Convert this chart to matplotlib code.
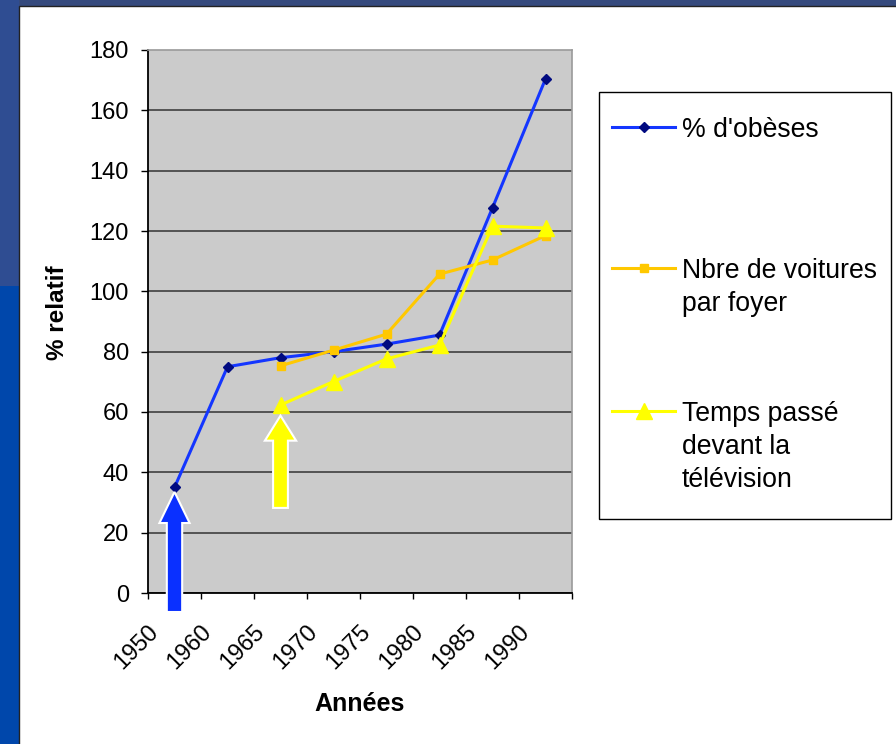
import numpy as np
import matplotlib
matplotlib.use("Agg")
import matplotlib.pyplot as plt
from matplotlib.patches import Rectangle, FancyArrow
from matplotlib.lines import Line2D
from matplotlib.transforms import ScaledTranslation

plt.rcParams['font.family'] = ['Liberation Sans', 'DejaVu Sans']

# ---------------- data ----------------
years = ['1950', '1960', '1965', '1970', '1975', '1980', '1985', '1990']
obeses = [35.0, 75.0, 78.0, 80.0, 82.5, 85.5, 127.7, 170.4]
voitures = [np.nan, np.nan, 75.3, 80.5, 85.8, 105.7, 110.4, 118.5]
television = [np.nan, np.nan, 62.3, 70.1, 77.6, 82.2, 121.6, 121.0]
series_labels = ["% d'obèses", "Nbre de voitures\npar foyer", "Temps passé\ndevant la\ntélévision"]
y_ticks = [0, 20, 40, 60, 80, 100, 120, 140, 160, 180]

W, H = 896, 744
def fx(x):
    return x / W
def fy(y):
    return 1 - y / H

fig = plt.figure(figsize=(W / 100, H / 100), dpi=100)
fig.patch.set_facecolor('#0047AB')

# slide background pieces
fig.add_artist(Rectangle((0, fy(6)), 1, 6 / H, transform=fig.transFigure,
                         fc='#354A7D', ec='none', zorder=0))
fig.add_artist(Rectangle((0, fy(286)), fx(19), 286 / H, transform=fig.transFigure,
                         fc='#2F4D92', ec='none', zorder=0))
fig.add_artist(Rectangle((fx(19), -0.01), 1.0, fy(6) + 0.01, transform=fig.transFigure,
                         fc='white', ec='#222222', lw=1, zorder=0.5))

ax = fig.add_axes([fx(148), fy(593), (572 - 148) / W, (593 - 50) / H])
ax.set_facecolor('#CBCBCB')
ax.set_zorder(1)

x = np.arange(len(years))
c_blue = '#1436FF'
c_gold = '#FFC800'
c_yel = '#FFFF00'

ax.plot(x, obeses, color=c_blue, lw=2.2, marker='D', ms=5.5,
        mfc='#000A80', mec='#000A80', zorder=3)
ax.plot(x, voitures, color=c_gold, lw=2.2, marker='s', ms=5.2,
        mfc=c_gold, mec=c_gold, zorder=4)
ax.plot(x, television, color=c_yel, lw=2.2, marker='^', ms=11,
        mfc=c_yel, mec=c_yel, zorder=5)

ax.set_xlim(-0.5, len(years) - 0.5)
ax.set_ylim(0, 180)
ax.set_yticks(y_ticks)
ax.set_yticklabels([str(v) for v in y_ticks])
ax.tick_params(axis='y', direction='out', length=5, width=1, pad=8.6,
               labelsize=17, colors='black')

ax.set_xticks(x)
ax.set_xticklabels(years, rotation=45, ha='right', va='center',
                   rotation_mode='anchor', fontsize=17)
ax.set_xticks(np.arange(-0.5, len(years), 1), minor=True)
ax.tick_params(axis='x', which='major', length=0, pad=25.5)
ax.tick_params(axis='x', which='minor', direction='out', length=4.5, width=1)
off = ScaledTranslation(-19 / 100, 0, fig.dpi_scale_trans)
for lab in ax.get_xticklabels():
    lab.set_transform(lab.get_transform() + off)

ax.yaxis.grid(True, color='#4a4a4a', lw=1.3)
ax.set_axisbelow(True)
ax.get_ygridlines()[-1].set_visible(False)

for s in ['left', 'bottom']:
    ax.spines[s].set_color('black')
    ax.spines[s].set_linewidth(1.3)
for s in ['top', 'right']:
    ax.spines[s].set_color('#9a9a9a')
    ax.spines[s].set_linewidth(1.2)

# annotation arrows pointing at the starting points
blue_tip = obeses[0] - 1.5
ax.add_patch(FancyArrow(0, -6.3, 0, blue_tip + 6.3, width=0.29, head_width=0.57,
                        head_length=10.3, length_includes_head=True,
                        fc='#0A30FF', ec='white', lw=1.5, clip_on=False, zorder=10))
yel_tip = television[2] - 3.5
ax.add_patch(FancyArrow(2, 28.2, 0, yel_tip - 28.2, width=0.28, head_width=0.59,
                        head_length=8.3, length_includes_head=True,
                        fc=c_yel, ec='white', lw=1.5, clip_on=False, zorder=10))

# axis titles
fig.text(fx(360), fy(704), 'Années', ha='center', va='center',
         fontsize=18, fontweight='bold')
fig.text(fx(57), fy(313), '% relatif', ha='center', va='center',
         rotation=90, fontsize=17.5, fontweight='bold')

# legend box
fig.add_artist(Rectangle((fx(599), fy(519)), (891 - 599) / W, (519 - 92) / H,
                         transform=fig.transFigure, fc='white', ec='black',
                         lw=1, zorder=2))
leg_rows = [127, 268, 411]
leg_styles = [
    dict(color=c_blue, marker='D', ms=5.5, mfc='#000A80', mec='#000A80'),
    dict(color=c_gold, marker='s', ms=5.2, mfc=c_gold, mec=c_gold),
    dict(color=c_yel, marker='^', ms=11, mfc=c_yel, mec=c_yel),
]
for yrow, st, lab in zip(leg_rows, leg_styles, series_labels):
    fig.add_artist(Line2D([fx(612), fx(675)], [fy(yrow)] * 2, transform=fig.transFigure,
                          color=st['color'], lw=2.2, zorder=3))
    fig.add_artist(Line2D([fx(643.5)], [fy(yrow)], transform=fig.transFigure,
                          marker=st['marker'], ms=st['ms'], mfc=st['mfc'],
                          mec=st['mec'], ls='none', zorder=4))
    fig.text(fx(682), fy(yrow - 10), lab, ha='left', va='top', fontsize=19.2,
             linespacing=1.36, zorder=4)

fig.savefig('out.png', dpi=100, facecolor=fig.get_facecolor())
